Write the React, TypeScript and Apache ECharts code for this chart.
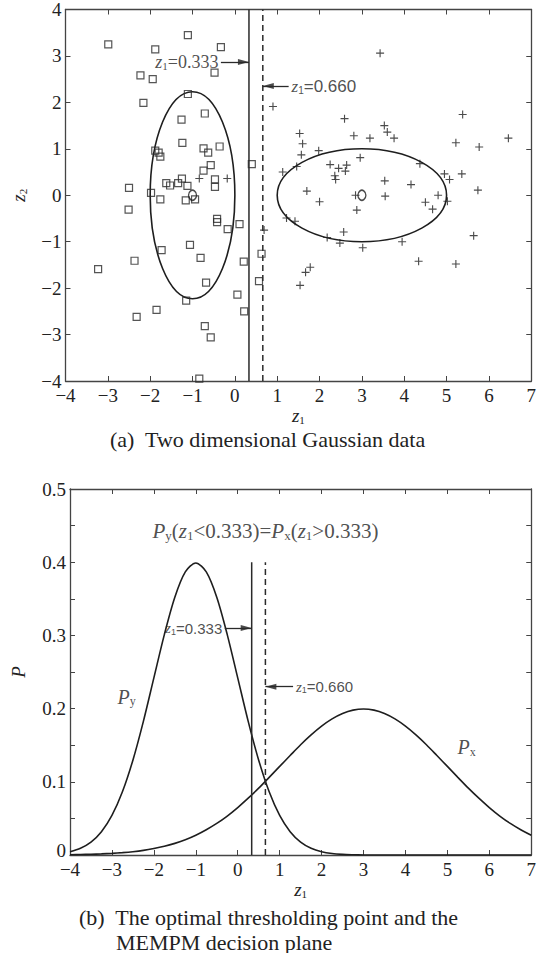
import React, { useEffect, useRef } from 'react';
import * as echarts from 'echarts';

const SERIF = 'Liberation Serif';
const SANS = 'Liberation Sans';
const INK = '#222';
const AXIS = '#444';

// ---------- Panel (a): two-dimensional Gaussian samples ----------
// class y samples (drawn as squares)
const classY: [number, number][] = [
  [-2.99, 3.25], [-1.11, 3.45], [-1.88, 3.14], [-0.33, 3.19], [-2.23, 2.58],
  [-1.94, 2.5], [-0.48, 2.64], [-2.16, 1.99], [-1.11, 2.18], [-0.71, 1.76],
  [-1.26, 1.63], [-1.24, 1.13], [-1.88, 0.96], [-1.8, 0.92], [-1.76, 0.83],
  [-0.74, 1.01], [-0.63, 0.92], [-0.36, 1.05], [-0.57, 0.65], [-0.74, 0.53],
  [0.4, 0.67], [-1.25, 0.36], [-1.62, 0.26], [-1.53, 0.21], [-1.34, 0.26],
  [-1.12, 0.2], [-0.47, 0.34], [-0.47, 0.18], [-2.5, 0.16], [-1.98, 0.05],
  [-1.76, -0.09], [-1.16, -0.11], [-0.94, -0.09], [-2.51, -0.31], [-0.42, -0.51],
  [-0.42, -0.58], [-0.17, -0.73], [0.11, -0.62], [-1.06, -1.07], [-1.73, -1.18],
  [-0.81, -1.35], [0.21, -1.43], [-2.37, -1.41], [-3.23, -1.59], [-0.68, -1.88],
  [-1.15, -2.27], [0.06, -2.14], [0.22, -2.5], [-1.85, -2.47], [-2.32, -2.62],
  [-0.71, -2.82], [-0.57, -3.06], [-0.84, -3.95], [0.63, -1.26], [0.57, -1.85],
];

// class x samples (drawn as pluses)
const classX: [number, number][] = [
  [3.43, 3.06], [0.9, 1.91], [2.59, 1.65], [5.38, 1.74], [3.53, 1.5],
  [1.53, 1.33], [3.6, 1.36], [3.76, 1.23], [2.81, 1.28], [3.19, 1.23],
  [1.6, 1.11], [5.22, 1.13], [6.46, 1.23], [5.77, 1.04], [1.57, 0.87],
  [1.98, 0.96], [2.96, 0.81], [1.46, 0.62], [1.13, 0.5], [2.25, 0.66],
  [2.45, 0.58], [2.64, 0.65], [2.61, 0.52], [2.36, 0.42], [2.38, 0.34],
  [4.37, 0.68], [4.95, 0.46], [5.07, 0.34], [5.36, 0.46], [3.54, 0.31],
  [4.16, 0.23], [1.7, 0.09], [5.74, 0.11], [3.55, -0.02], [4.8, 0.0],
  [2.85, 0.0], [2.0, -0.14], [4.5, -0.15], [4.67, -0.3], [5.02, -0.13],
  [2.88, -0.32], [1.22, -0.49], [1.42, -0.56], [0.69, -0.75], [2.18, -0.91],
  [2.57, -0.79], [2.48, -1.03], [3.02, -1.13], [3.95, -1.0], [5.64, -0.87],
  [4.34, -1.42], [5.22, -1.48], [1.78, -1.55], [1.67, -1.66], [1.54, -1.94],
  [-0.84, 0.36], [-0.18, 0.36],
];

const classMeans: [number, number][] = [[-1, 0], [3, 0]];

// covariance ellipses: centre z1, centre z2, half-width along z1, half-height along z2
const covEllipses: [number, number, number, number][] = [
  [-1, 0, 1.0, 2.23],
  [3, 0, 2.0, 1.0],
];

const T_MEMPM = 0.333;
const T_OPT = 0.66;
const panelARange = [-4, 4];
const panelBRange = [0, 0.4];

// ---------- Panel (b): marginal densities along z1 ----------
const zSamples = [
  -4, -3.75, -3.5, -3.25, -3, -2.75, -2.5, -2.25, -2, -1.75, -1.5, -1.25, -1,
  -0.75, -0.5, -0.25, 0, 0.25, 0.5, 0.75, 1, 1.25, 1.5, 1.75, 2, 2.25, 2.5,
  2.75, 3, 3.25, 3.5, 3.75, 4, 4.25, 4.5, 4.75, 5, 5.25, 5.5, 5.75, 6, 6.25,
  6.5, 6.75, 7,
];
const densityPy = [
  0.0044, 0.0091, 0.0175, 0.0317, 0.054, 0.0863, 0.1295, 0.1826, 0.242, 0.3011,
  0.3521, 0.3867, 0.3989, 0.3867, 0.3521, 0.3011, 0.242, 0.1826, 0.1295, 0.0863,
  0.054, 0.0317, 0.0175, 0.0091, 0.0044, 0.002, 0.0009, 0.0004, 0.0001, 0, 0, 0,
  0, 0, 0, 0, 0, 0, 0, 0, 0, 0, 0, 0, 0,
];
const densityPx = [
  0.0004, 0.0007, 0.001, 0.0015, 0.0022, 0.0032, 0.0045, 0.0063, 0.0088, 0.0119,
  0.0159, 0.0208, 0.027, 0.0345, 0.0431, 0.0532, 0.0648, 0.0776, 0.0913, 0.1061,
  0.121, 0.1359, 0.1506, 0.164, 0.176, 0.1859, 0.1933, 0.1979, 0.1995, 0.1979,
  0.1933, 0.1859, 0.176, 0.164, 0.1506, 0.1359, 0.121, 0.1061, 0.0913, 0.0776,
  0.0648, 0.0532, 0.0431, 0.0345, 0.027,
];

// tick labels go through rich text so the serif face is applied
const fmtInt = (v: number) => `{t|${v < 0 ? `\u2212${-v}` : `${v}`}}`;
const fmtP = (v: number) => {
  const k = Math.round(v * 100);
  if (k % 10 !== 0) return '';
  return k === 0 ? '{zero|0}' : `{t|${(k / 100).toFixed(1)}}`;
};

const subRich = (size: number, family: string) => ({
  i: { fontFamily: SERIF, fontStyle: 'italic', fontSize: size, color: INK, lineHeight: size + 4, verticalAlign: 'middle' },
  s: { fontFamily: family, fontSize: Math.round(size * 0.6), color: INK, lineHeight: size + 4, padding: [Math.round(size * 0.45), 0, 0, 0] },
  n: { fontFamily: family, fontSize: size, color: INK, lineHeight: size + 4, verticalAlign: 'middle' },
});

function boxAxes(grid: number, kind: 'x' | 'y', min: number, max: number, interval: number, fmt: (v: number) => string, name?: string, nameGap?: number) {
  const primary: any = {
    type: 'value', gridIndex: grid, min, max, interval,
    position: kind === 'x' ? 'bottom' : 'left',
    axisLine: { show: true, onZero: false, lineStyle: { color: AXIS, width: 1.3 } },
    axisTick: { show: true, inside: true, length: 5, lineStyle: { color: AXIS, width: 1 } },
    axisLabel: {
      show: true, margin: kind === 'x' ? 5 : 4, fontFamily: SERIF, fontSize: 19, color: INK, formatter: fmt,
      rich: {
        t: { fontFamily: SERIF, fontSize: 19, color: INK },
        zero: { fontFamily: SERIF, fontSize: 19, color: INK, padding: [0, 0, 10, 0] },
      },
    },
    splitLine: { show: false },
  };
  if (name) {
    primary.name = name;
    primary.nameLocation = 'middle';
    primary.nameGap = nameGap;
    primary.nameRotate = kind === 'y' ? 90 : 0;
    primary.nameTextStyle = { rich: subRich(19, SERIF) };
  }
  const secondary: any = {
    type: 'value', gridIndex: grid, min, max, interval,
    position: kind === 'x' ? 'top' : 'right',
    axisLine: { show: true, onZero: false, lineStyle: { color: AXIS, width: 1.3 } },
    axisTick: { show: true, inside: true, length: 5, lineStyle: { color: AXIS, width: 1 } },
    axisLabel: { show: false },
    splitLine: { show: false },
  };
  return [primary, secondary];
}

function textMark(xi: number, yi: number, at: [number, number], text: string, position: string, rich: any) {
  return {
    type: 'scatter', xAxisIndex: xi, yAxisIndex: yi, silent: true,
    symbolSize: 1, itemStyle: { color: 'rgba(0,0,0,0)' },
    data: [at],
    label: { show: true, position, distance: 2, formatter: text, rich },
    z: 5,
  };
}

// threshold plane: vertical line plus the shaft of its pointer
function vLine(xi: number, yi: number, x: number, range: number[], dashed: boolean, from: number, y: number) {
  return {
    type: 'line', xAxisIndex: xi, yAxisIndex: yi, silent: true, symbol: 'none',
    data: [[x, range[0]], [x, range[1]]],
    lineStyle: { color: '#2a2a2a', width: 1.5, type: dashed ? [6, 4] : 'solid' },
    markLine: {
      silent: true, symbol: ['none', 'none'],
      label: { show: false },
      lineStyle: { color: '#2a2a2a', width: 1.3, type: 'solid' },
      data: [[{ coord: [from, y] }, { coord: [x, y] }]],
    },
  };
}

// arrowhead whose tip touches the threshold line
function arrowHead(xi: number, yi: number, x: number, y: number, pointRight: boolean) {
  return {
    type: 'scatter', xAxisIndex: xi, yAxisIndex: yi, silent: true,
    symbol: 'triangle', symbolSize: [6, 11], symbolRotate: pointRight ? -90 : 90,
    symbolOffset: [pointRight ? -5.5 : 5.5, 0],
    itemStyle: { color: '#1e1e1e' },
    data: [[x, y]], z: 4,
  };
}

export default function App() {
  const ref = useRef<HTMLDivElement>(null);
  useEffect(() => {
    if (!ref.current) return;
    const chart = echarts.init(ref.current, null, { renderer: 'svg' });

    const [xa0, xa1] = boxAxes(0, 'x', -4, 7, 1, fmtInt, '{i|z}{s|1}', 22);
    const [ya0, ya1] = boxAxes(0, 'y', -4, 4, 1, fmtInt, '{i|z}{s|2}', 36);
    const [xb0, xb1] = boxAxes(1, 'x', -4, 7, 1, fmtInt, '{i|z}{s|1}', 20);
    const [yb0, yb1] = boxAxes(1, 'y', 0, 0.5, 0.05, fmtP, '{i|P}', 40);

    const richTop = subRich(18, SERIF);
    const richTopSans = subRich(17, SANS);
    const richBot = subRich(15, SANS);
    const richTitle = subRich(21, SERIF);
    const richCurve = subRich(20, SERIF);

    const capFont = `22px ${SERIF}`;

    chart.setOption({
      animation: false,
      backgroundColor: '#fff',
      grid: [
        { left: 64, top: 8, width: 471, height: 373 },
        { left: 70, top: 489, width: 465, height: 366 },
      ],
      xAxis: [xa0, xa1, xb0, xb1],
      yAxis: [ya0, ya1, yb0, yb1],
      graphic: [
        { type: 'text', left: 110, top: 428, style: { text: '(a)  Two dimensional Gaussian data', font: capFont, fill: INK } },
        { type: 'text', left: 79, top: 906, style: { text: '(b)  The optimal thresholding point and the', font: capFont, fill: INK } },
        { type: 'text', left: 116, top: 931, style: { text: 'MEMPM decision plane', font: capFont, fill: INK } },
      ],
      series: [
        // ---- panel (a)
        {
          type: 'custom', xAxisIndex: 0, yAxisIndex: 0, silent: true,
          data: covEllipses,
          encode: { x: 0, y: 1 },
          renderItem: (_p: any, api: any) => {
            const c = api.coord([api.value(0), api.value(1)]);
            const s = api.size([api.value(2), api.value(3)]);
            return {
              type: 'ellipse',
              shape: { cx: c[0], cy: c[1], rx: s[0], ry: s[1] },
              style: { fill: 'none', stroke: '#1e1e1e', lineWidth: 1.6 },
            };
          },
        },
        {
          type: 'scatter', xAxisIndex: 0, yAxisIndex: 0, silent: true,
          symbol: 'rect', symbolSize: 7, data: classY,
          itemStyle: { color: 'rgba(255,255,255,0)', borderColor: '#2a2a2a', borderWidth: 1.2 },
        },
        {
          type: 'scatter', xAxisIndex: 0, yAxisIndex: 0, silent: true,
          symbol: 'path://M4.3,0H5.7V4.3H10V5.7H5.7V10H4.3V5.7H0V4.3H4.3Z', symbolSize: 8, data: classX,
          itemStyle: { color: '#1e1e1e' },
        },
        {
          type: 'scatter', xAxisIndex: 0, yAxisIndex: 0, silent: true,
          symbol: 'circle', symbolSize: [8, 10], data: classMeans,
          itemStyle: { color: 'rgba(255,255,255,0)', borderColor: '#1e1e1e', borderWidth: 1.5 },
        },
        vLine(0, 0, T_MEMPM, panelARange, false, -0.33, 2.87),
        vLine(0, 0, T_OPT, panelARange, true, 1.27, 2.35),
        arrowHead(0, 0, T_MEMPM, 2.87, true),
        arrowHead(0, 0, T_OPT, 2.35, false),
        textMark(0, 0, [-0.33, 2.87], '{i|z}{s|1}{n|=0.333}', 'left', richTop),
        textMark(0, 0, [1.28, 2.35], '{i|z}{s|1}{n|=0.660}', 'right', richTopSans),

        // ---- panel (b)
        {
          type: 'line', xAxisIndex: 2, yAxisIndex: 2, silent: true, symbol: 'none', smooth: 0.3,
          data: zSamples.map((z, k) => [z, densityPy[k]]),
          lineStyle: { color: '#1e1e1e', width: 1.6 },
        },
        {
          type: 'line', xAxisIndex: 2, yAxisIndex: 2, silent: true, symbol: 'none', smooth: 0.3,
          data: zSamples.map((z, k) => [z, densityPx[k]]),
          lineStyle: { color: '#1e1e1e', width: 1.6 },
        },
        vLine(2, 2, T_MEMPM, panelBRange, false, -0.31, 0.31),
        vLine(2, 2, T_OPT, panelBRange, true, 1.32, 0.23),
        arrowHead(2, 2, T_MEMPM, 0.31, true),
        arrowHead(2, 2, T_OPT, 0.23, false),
        textMark(2, 2, [-0.31, 0.31], '{i|z}{s|1}{n|=0.333}', 'left', richBot),
        textMark(2, 2, [1.33, 0.23], '{i|z}{s|1}{n|=0.660}', 'right', richBot),
        textMark(2, 2, [0.66, 0.443],
          '{i|P}{s|y}{n|(}{i|z}{s|1}{n|<0.333)=}{i|P}{s|x}{n|(}{i|z}{s|1}{n|>0.333)}',
          'inside', richTitle),
        textMark(2, 2, [-2.65, 0.216], '{i|P}{s|y}', 'inside', richCurve),
        textMark(2, 2, [5.46, 0.147], '{i|P}{s|x}', 'inside', richCurve),
      ],
    });
    return () => chart.dispose();
  }, []);
  return <div ref={ref} style={{ position: 'absolute', left: 0, top: 0, width: 539, height: 953 }} />;
}
